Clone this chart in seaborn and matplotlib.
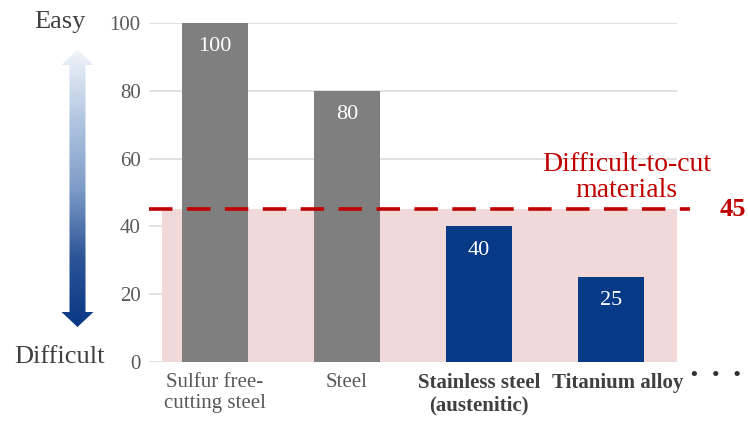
import numpy as np
import pandas as pd
import matplotlib
matplotlib.use("Agg")
import matplotlib.pyplot as plt
import matplotlib.transforms as mtransforms
from matplotlib.patches import Polygon
from matplotlib.colors import LinearSegmentedColormap
import seaborn as sns

# Machinability index by material
categories = ["Sulfur free-\ncutting steel", "Steel", "Stainless steel\n(austenitic)", "Titanium alloy"]
values = [100, 80, 40, 25]
bold_labels = [False, False, True, True]
bar_colors = ["#7f7f7f", "#7f7f7f", "#063a87", "#063a87"]
threshold = 45
threshold_label = "Difficult-to-cut\nmaterials"
y_ticks = [0, 20, 40, 60, 80, 100]

sns.set_theme(style="white")
plt.rcParams["font.family"] = ["Liberation Serif", "DejaVu Serif"]

W, H = 748, 421
fig = plt.figure(figsize=(W / 100, H / 100), dpi=100)

# Background layer in pixel coordinates for the gradient scale arrow
bg = fig.add_axes([0, 0, 1, 1], zorder=0)
bg.set_xlim(0, W)
bg.set_ylim(H, 0)
bg.axis("off")
cx, top, bot = 77.5, 50, 327
head_w, shaft_w, head_h = 16, 8, 15
arrow_pts = [
    (cx, top), (cx + head_w, top + head_h), (cx + shaft_w, top + head_h),
    (cx + shaft_w, bot - head_h), (cx + head_w, bot - head_h), (cx, bot),
    (cx - head_w, bot - head_h), (cx - shaft_w, bot - head_h),
    (cx - shaft_w, top + head_h), (cx - head_w, top + head_h),
]
arrow = Polygon(arrow_pts, closed=True, facecolor="none", edgecolor="none")
bg.add_patch(arrow)
cmap = LinearSegmentedColormap.from_list("scale", ["#f0f4fa", "#b2c6e1", "#7e9cc8", "#2c5597", "#0a3784"])
grad = np.linspace(0, 1, 256).reshape(-1, 1)
img = bg.imshow(grad, cmap=cmap, extent=(cx - head_w, cx + head_w, bot, top),
                aspect="auto", origin="upper")
img.set_clip_path(arrow)

fig.text(86 / W, 1 - 22 / H, "Easy", ha="right", va="center", fontsize=19, color="#404040")
fig.text(105 / W, 1 - 357 / H, "Difficult", ha="right", va="center", fontsize=19, color="#404040")

# Main chart
ax = fig.add_axes([149 / W, 59 / H, 528 / W, 339 / H], zorder=1)
ax.patch.set_alpha(0)
df = pd.DataFrame({"material": categories, "index": values})
sns.barplot(data=df, x="material", y="index", hue="material", palette=bar_colors,
            legend=False, width=0.5, saturation=1, linewidth=0, ax=ax, zorder=3)

ax.set_xlim(-0.5, 3.5)
ax.set_ylim(0, 100)
ax.set_yticks(y_ticks)
ax.grid(axis="y", color="#d9d9d9", linewidth=1.1, zorder=0)
ax.grid(axis="x", visible=False)
for s in ax.spines.values():
    s.set_visible(False)
ax.tick_params(axis="both", length=0, labelsize=15, labelcolor="#595959")
ax.tick_params(axis="y", pad=6)
ax.tick_params(axis="x", pad=8)
ax.set_xlabel("")
ax.set_ylabel("")

ax.set_xticks(range(len(categories)))
ax.set_xticklabels(categories, linespacing=1.15)
xlabels = ax.get_xticklabels()
for lbl, b in zip(xlabels, bold_labels):
    if b:
        lbl.set_fontweight("bold")
        lbl.set_color("#404040")
# nudge the last label a little to the right
shift = mtransforms.ScaledTranslation(7 / 100, 0, fig.dpi_scale_trans)
xlabels[-1].set_transform(xlabels[-1].get_transform() + shift)

# Difficult-to-cut zone
ax.axhspan(0, threshold, xmin=0.024, xmax=1.0, color="#f2d9d9", zorder=1, lw=0)
ax.axhline(threshold, xmin=0, xmax=1.025, color="#c00000", lw=2.6,
           dashes=(6.5, 4), zorder=4, clip_on=False)
ax.annotate(threshold_label, xy=(0.905, threshold), xycoords=("axes fraction", "data"),
            xytext=(0, 5), textcoords="offset points", ha="center", va="bottom",
            fontsize=20, color="#c00000", linespacing=1.05)
ax.annotate(str(threshold), xy=(1.105, threshold), xycoords=("axes fraction", "data"),
            ha="center", va="center", fontsize=19, fontweight="bold", color="#c00000",
            annotation_clip=False)

# Value labels inside the bars
for i, v in enumerate(values):
    ax.annotate(str(v), xy=(i, v), xytext=(0, -17), textcoords="offset points",
                ha="center", va="center", fontsize=16, color="white", zorder=5)

fig.text(716 / W, 1 - 376 / H, "\u2022   \u2022   \u2022", ha="center", va="center",
         fontsize=14, fontweight="bold", color="#303030")

fig.savefig("out.png", dpi=100)
